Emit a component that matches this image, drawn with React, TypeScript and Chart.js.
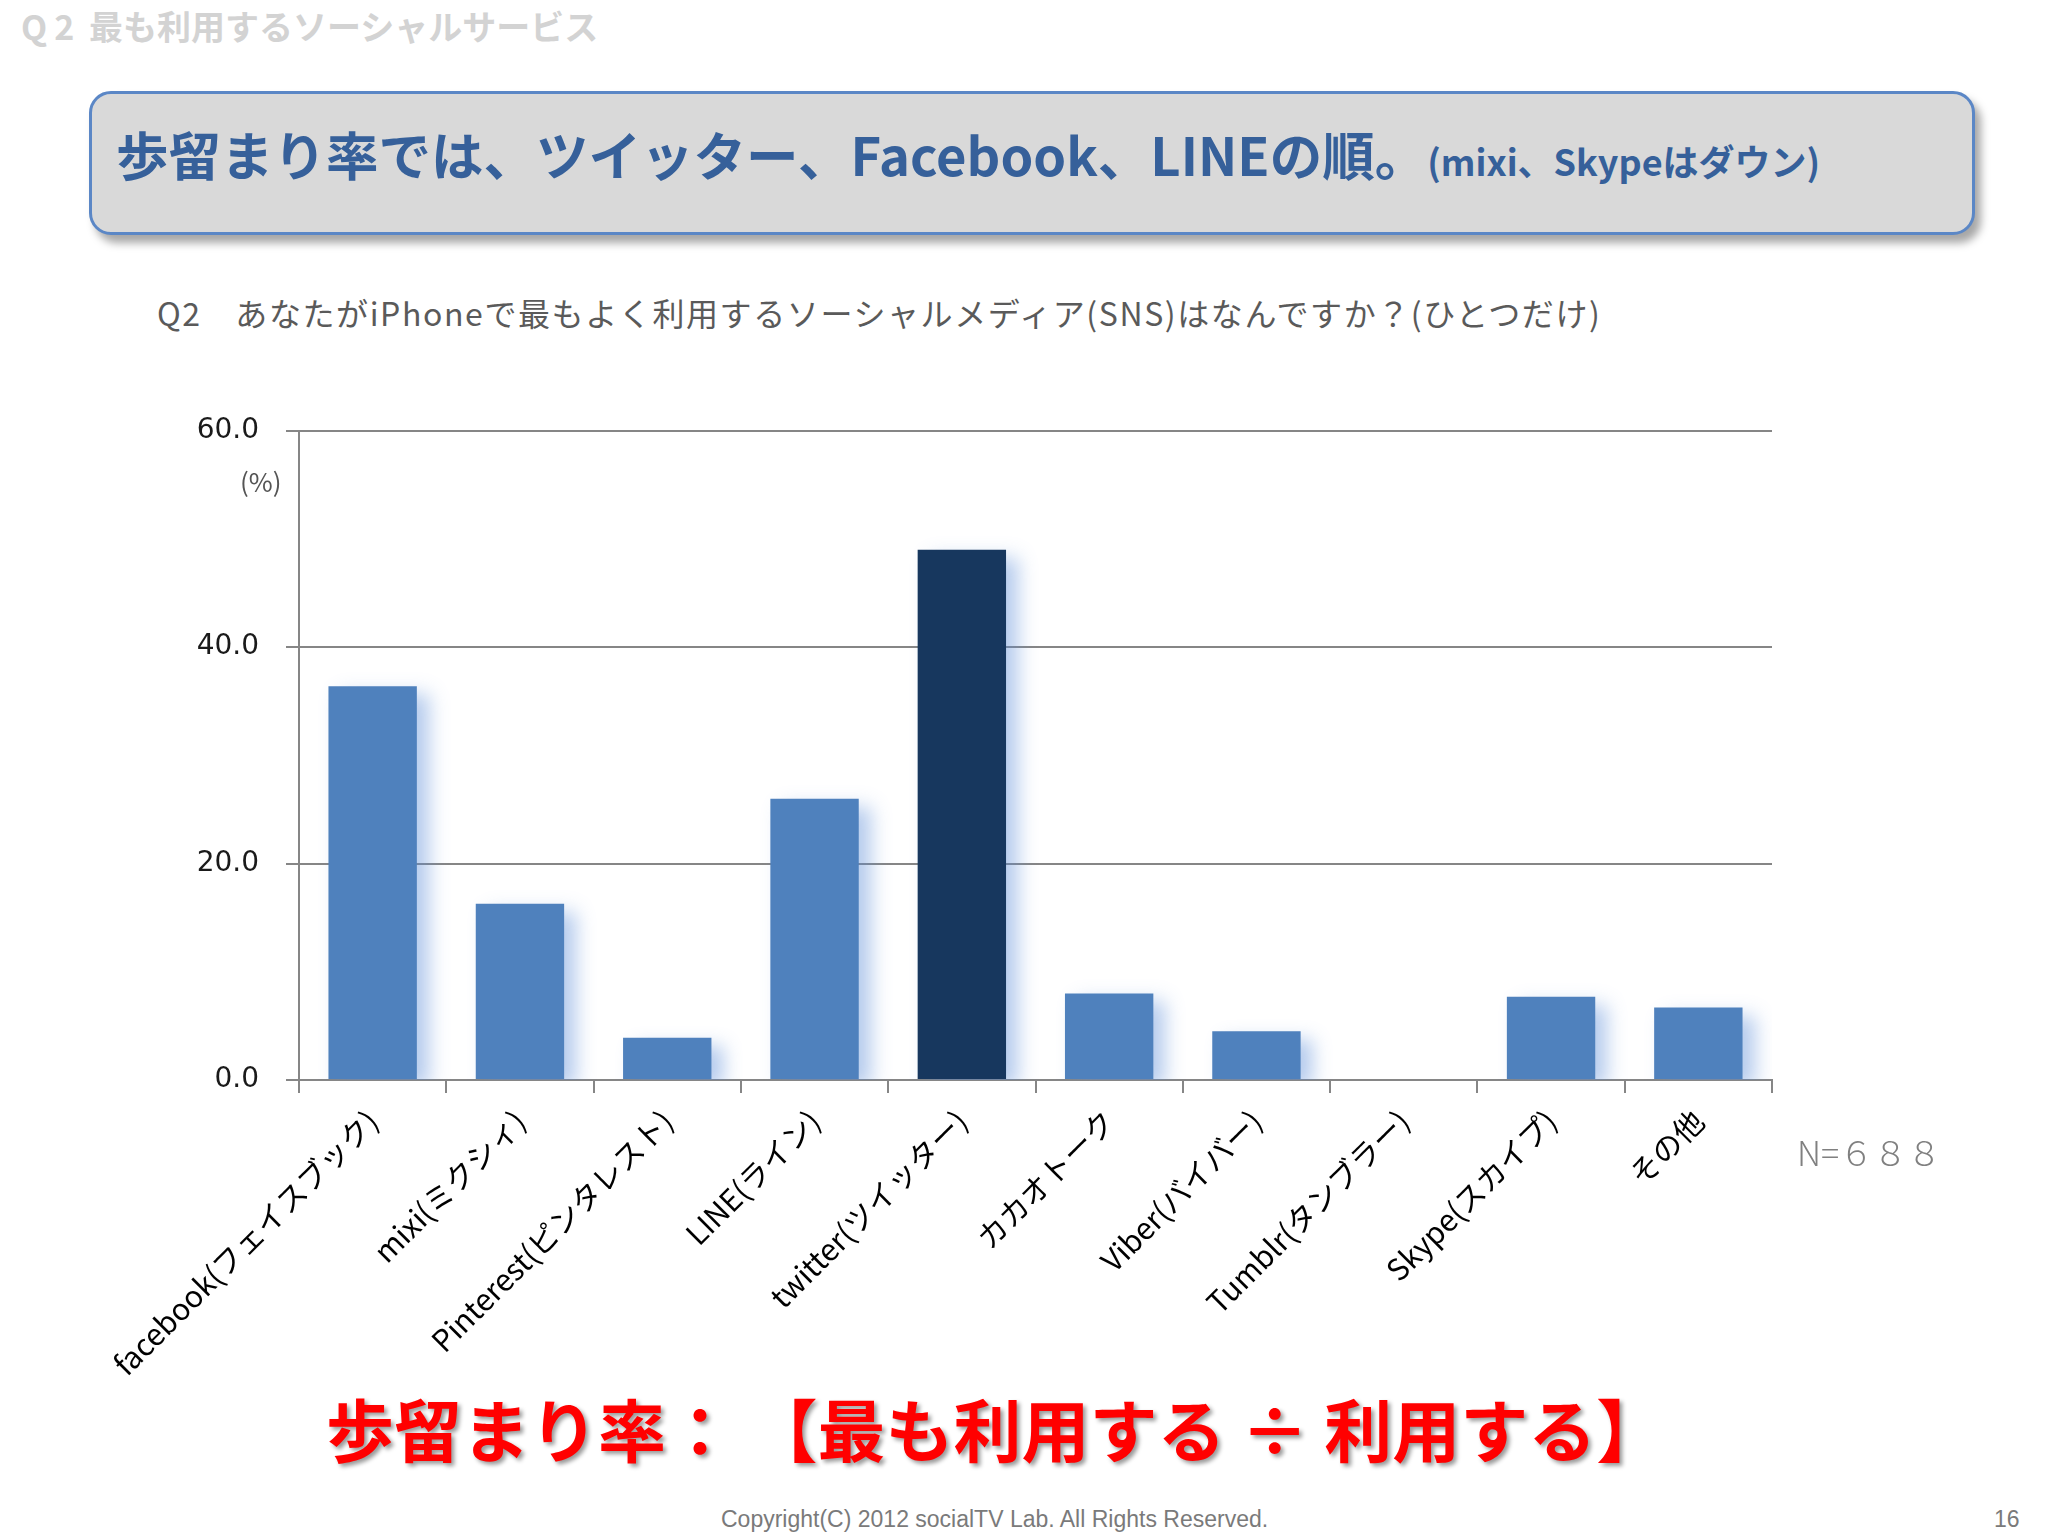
import React, { useEffect, useRef } from "react";
import { Chart, registerables } from "chart.js";

Chart.register(...registerables);

const categories: string[] = [
  "facebook(フェイスブック)",
  "mixi(ミクシィ)",
  "Pinterest(ピンタレスト)",
  "LINE(ライン)",
  "twitter(ツイッター)",
  "カカオトーク",
  "Viber(バイバー)",
  "Tumblr(タンブラー)",
  "Skype(スカイプ)",
  "その他",
];
const values: number[] = [36.4, 16.3, 3.9, 26.0, 49.0, 8.0, 4.5, 0, 7.7, 6.7];
const highlightCategory = "twitter(ツイッター)";
const yMin = 0;
const yMax = 60;
const yStep = 20;

const JP = "'Noto Sans CJK JP', 'Noto Sans', sans-serif";

const barShadow = {
  id: "barShadow",
  beforeDatasetDraw(chart: any) {
    const ctx = chart.ctx;
    ctx.save();
    ctx.shadowColor = "rgba(90,140,215,0.45)";
    ctx.shadowBlur = 18;
    ctx.shadowOffsetX = 12;
    ctx.shadowOffsetY = 8;
  },
  afterDatasetDraw(chart: any) {
    chart.ctx.restore();
  },
};

function BarChart() {
  const ref = useRef<HTMLCanvasElement | null>(null);
  useEffect(() => {
    if (!ref.current) return;
    const colors = categories.map((c) => (c === highlightCategory ? "#17375e" : "#4f81bd"));
    const chart = new Chart(ref.current, {
      type: "bar",
      data: {
        labels: categories,
        datasets: [
          {
            data: values,
            backgroundColor: colors,
            borderWidth: 0,
            barPercentage: 0.6,
            categoryPercentage: 1,
          },
        ],
      },
      plugins: [barShadow],
      options: {
        animation: false,
        responsive: false,
        devicePixelRatio: 1,
        layout: { padding: { left: 0, top: 30, right: 276, bottom: 0 } },
        plugins: {
          legend: { display: false },
          tooltip: { enabled: false },
          title: { display: false },
        },
        scales: {
          x: {
            afterFit: (s: any) => {
              s.height = 320;
            },
            grid: {
              display: true,
              drawOnChartArea: false,
              drawTicks: true,
              tickLength: 13,
              color: "#868686",
              lineWidth: 2,
              offset: true,
            },
            border: { display: true, color: "#868686", width: 2 },
            ticks: {
              autoSkip: false,
              maxRotation: 45,
              minRotation: 45,
              padding: 10,
              color: "#000000",
              font: { family: JP, size: 30 },
            },
          },
          y: {
            min: yMin,
            max: yMax,
            afterFit: (s: any) => {
              s.width = 299;
            },
            grid: {
              color: "#868686",
              lineWidth: 2,
              drawTicks: true,
              tickLength: 13,
            },
            border: { display: true, color: "#868686", width: 2 },
            ticks: {
              stepSize: yStep,
              padding: 27,
              color: "#1a1a1a",
              font: { family: "'DejaVu Sans', sans-serif", size: 28 },
              callback: (v: any) => Number(v).toFixed(1),
            },
          },
        },
      },
    });
    return () => chart.destroy();
  }, []);
  return (
    <canvas
      ref={ref}
      width={2048}
      height={1013}
      style={{ position: "absolute", left: 0, top: 387, width: 2048, height: 1013 }}
    />
  );
}

export default function App() {
  return (
    <div
      style={{
        position: "absolute",
        left: 0,
        top: 0,
        width: 2048,
        height: 1536,
        background: "#ffffff",
        overflow: "hidden",
        fontFamily: JP,
      }}
    >
      <div
        style={{
          position: "absolute",
          left: 21,
          top: 6,
          fontSize: 34,
          lineHeight: "40px",
          fontWeight: 700,
          color: "#d3d3d3",
          whiteSpace: "nowrap",
        }}
      >
        <span style={{ letterSpacing: 7 }}>Q2</span> 最も利用するソーシャルサービス
      </div>

      <div
        style={{
          position: "absolute",
          left: 89,
          top: 91,
          width: 1886,
          height: 144,
          boxSizing: "border-box",
          background: "#d9d9d9",
          border: "3px solid #5b87c6",
          borderRadius: 22,
          boxShadow: "6px 8px 8px rgba(0,0,0,0.35)",
        }}
      />
      <div
        style={{
          position: "absolute",
          left: 116,
          top: 118,
          height: 70,
          lineHeight: "70px",
          whiteSpace: "nowrap",
          color: "#36609a",
          fontWeight: 700,
        }}
      >
        <span style={{ fontSize: 52.5 }}>歩留まり率では、ツイッター、Facebook、LINEの順。</span>
        <span style={{ fontSize: 36 }}>(mixi、Skypeはダウン)</span>
      </div>

      <div
        style={{
          position: "absolute",
          left: 157,
          top: 292,
          fontSize: 32,
          lineHeight: "40px",
          letterSpacing: 1.6,
          color: "#5a5a5a",
          whiteSpace: "nowrap",
        }}
      >
        Q2　あなたがiPhoneで最もよく利用するソーシャルメディア(SNS)はなんですか？(ひとつだけ)
      </div>

      <BarChart />

      <div
        style={{
          position: "absolute",
          left: 240,
          top: 465,
          fontSize: 26,
          lineHeight: "32px",
          color: "#555555",
          whiteSpace: "nowrap",
        }}
      >
        (%)
      </div>

      <div
        style={{
          position: "absolute",
          left: 1797,
          top: 1130,
          fontSize: 34,
          lineHeight: "44px",
          color: "#808080",
          fontWeight: 300,
          whiteSpace: "nowrap",
        }}
      >
        N=６８８
      </div>

      <div
        style={{
          position: "absolute",
          left: 326,
          top: 1383,
          fontSize: 68,
          lineHeight: "90px",
          fontWeight: 700,
          color: "#ff0000",
          whiteSpace: "nowrap",
          textShadow: "3px 3px 4px rgba(0,0,0,0.4)",
        }}
      >
        歩留まり率： 【最も利用する ÷ 利用する】
      </div>

      <div
        style={{
          position: "absolute",
          left: 721,
          top: 1505,
          fontSize: 23,
          lineHeight: "28px",
          color: "#7a7a7a",
          fontFamily: "'Liberation Sans', Arial, sans-serif",
          whiteSpace: "nowrap",
        }}
      >
        Copyright(C) 2012 socialTV Lab. All Rights Reserved.
      </div>
      <div
        style={{
          position: "absolute",
          left: 1994,
          top: 1505,
          fontSize: 23,
          lineHeight: "28px",
          color: "#7a7a7a",
          fontFamily: "'Liberation Sans', Arial, sans-serif",
        }}
      >
        16
      </div>
    </div>
  );
}
